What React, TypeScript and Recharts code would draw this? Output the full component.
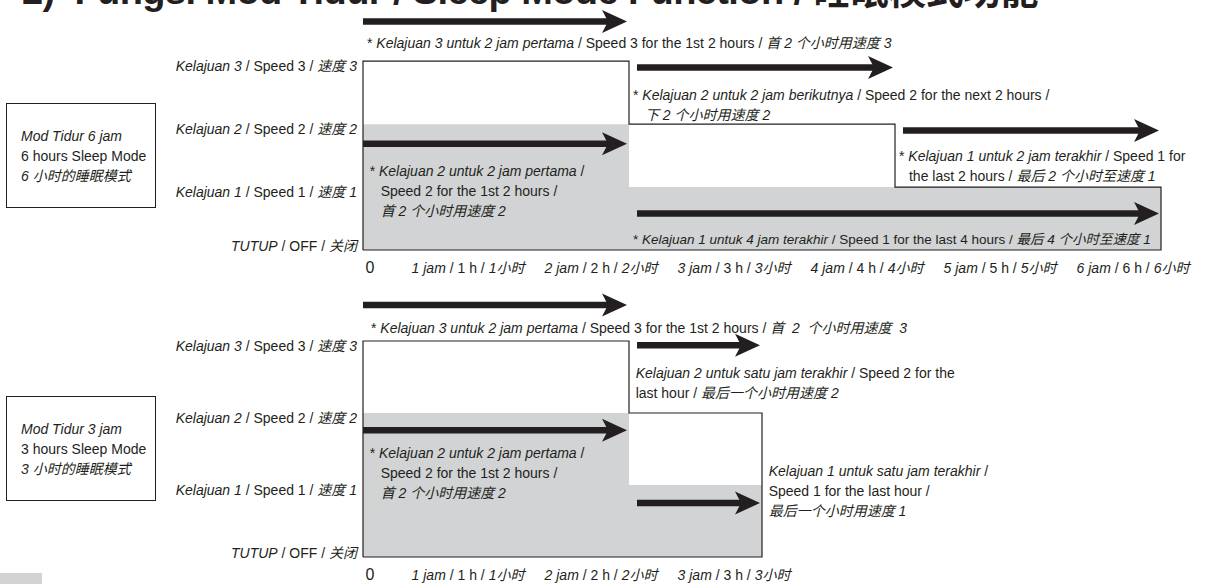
import React from 'react';
import { ComposedChart, Area, Line, XAxis, YAxis, ReferenceLine, ReferenceDot } from 'recharts';

const INK = '#231f20';
const SHADE = '#d1d3d4';
const FONT = "'Liberation Sans', 'Noto Sans CJK SC', Arial, sans-serif";

// ---- Panel 1: 6 hours sleep mode ----
const sixHours = [0, 2, 4, 6];
const sixFromSpeed3 = [3, 2, 1, 1];
const sixFromSpeed2 = [2, 1, 1, 1];
const sixHourTicks = [0, 1, 2, 3, 4, 5, 6];

// ---- Panel 2: 3 hours sleep mode ----
const threeHours = [0, 2, 3];
const threeFromSpeed3 = [3, 2, 2];
const threeFromSpeed2 = [2, 1, 1];
const threeHourTicks = [0, 1, 2, 3];

// ---- tick labels (underscore = italic) ----
const speedTicks = [0, 1, 2, 3];
const speedLabels = [
  '_TUTUP_ / OFF / _关闭_',
  '_Kelajuan 1_ / Speed 1 / _速度 1_',
  '_Kelajuan 2_ / Speed 2 / _速度 2_',
  '_Kelajuan 3_ / Speed 3 / _速度 3_',
];
const hourLabels = [
  '0',
  '_1 jam_ / 1 h / _1小时_',
  '_2 jam_ / 2 h / _2小时_',
  '_3 jam_ / 3 h / _3小时_',
  '_4 jam_ / 4 h / _4小时_',
  '_5 jam_ / 5 h / _5小时_',
  '_6 jam_ / 6 h / _6小时_',
];

const modeTitles = [
  ['_Mod Tidur 6 jam_', '6 hours Sleep Mode', '_6 小时的睡眠模式_'],
  ['_Mod Tidur 3 jam_', '3 hours Sleep Mode', '_3 小时的睡眠模式_'],
];

// ---- arrows (hours from -> to, at speed level) ----
const sixArrows = [
  { from: 0, to: 2, speed: 3.63 },
  { from: 2, to: 4, speed: 2.9 },
  { from: 4, to: 6, speed: 1.9 },
  { from: 0, to: 2, speed: 1.69 },
  { from: 2, to: 6, speed: 0.58 },
];
const threeArrows = [
  { from: 0, to: 2, speed: 3.5 },
  { from: 2, to: 3, speed: 2.94 },
  { from: 0, to: 2, speed: 1.76 },
  { from: 2, to: 3, speed: 0.75 },
];

// ---- notes ----
const sixNotes = [
  { hour: 0.03, speed: 3.21, indent: 11, size: 14, lines: ['* _Kelajuan 3 untuk 2 jam pertama_ / Speed 3 for the 1st 2 hours / _首 2 个小时用速度 3_'] },
  { hour: 2.03, speed: 2.39, indent: 12, size: 14, lines: ['* _Kelajuan 2 untuk 2 jam berikutnya_ / Speed 2 for the next 2 hours /', '_下 2 个小时用速度 2_'] },
  { hour: 4.03, speed: 1.42, indent: 10, size: 14, lines: ['* _Kelajuan 1 untuk 2 jam terakhir_ / Speed 1 for', 'the last 2 hours / _最后 2 个小时至速度 1_'] },
  { hour: 0.05, speed: 1.17, indent: 11, size: 14, lines: ['* _Kelajuan 2 untuk 2 jam pertama_ /', 'Speed 2 for the 1st 2 hours /', '_首 2 个小时用速度 2_'] },
  { hour: 2.03, speed: 0.1, indent: 0, size: 13.5, lines: ['* _Kelajuan 1 untuk 4 jam terakhir_ / Speed 1 for the last 4 hours / _最后 4 个小时至速度 1_'] },
];
const threeNotes = [
  { hour: 0.06, speed: 3.11, indent: 0, size: 14, lines: ['* _Kelajuan 3 untuk 2 jam pertama_ / Speed 3 for the 1st 2 hours / _首  2  个小时用速度  3_'] },
  { hour: 2.05, speed: 2.48, indent: 0, size: 14, lines: ['_Kelajuan 2 untuk satu jam terakhir_ / Speed 2 for the', 'last hour / _最后一个小时用速度 2_'] },
  { hour: 0.05, speed: 1.38, indent: 11, size: 14, lines: ['* _Kelajuan 2 untuk 2 jam pertama_ /', 'Speed 2 for the 1st 2 hours /', '_首 2 个小时用速度 2_'] },
  { hour: 3.05, speed: 1.125, indent: 0, size: 14, lines: ['_Kelajuan 1 untuk satu jam terakhir_ /', 'Speed 1 for the last hour /', '_最后一个小时用速度 1_'] },
];

const toPoints = (hours: number[], speeds: number[]) => hours.map((h, i) => ({ x: h, y: speeds[i] }));
const toOutline = (hours: number[], speeds: number[]) => {
  const end = hours[hours.length - 1];
  return [{ x: 0, y: 0 }, ...toPoints(hours, speeds), { x: end, y: 0 }, { x: 0, y: 0 }];
};

function Rich({ text }: { text: string }) {
  const parts = text.split('_');
  return (
    <>
      {parts.map((p, i) =>
        p ? (
          <tspan key={i} fontStyle={i % 2 ? 'italic' : 'normal'}>
            {p}
          </tspan>
        ) : null
      )}
    </>
  );
}

function NoteShape(props: any) {
  const { cx, cy, lines, indent, size } = props;
  return (
    <text x={cx} y={cy} fontSize={size} fill={INK} fontFamily={FONT} style={{ whiteSpace: 'pre' }}>
      {lines.map((ln: string, i: number) => (
        <tspan key={i} x={cx + (i ? indent : 0)} y={cy + i * 20}>
          <Rich text={ln} />
        </tspan>
      ))}
    </text>
  );
}

function ArrowShape(props: any) {
  const { x1, y1, x2, inset } = props;
  const start = x1 + inset;
  const tip = x2 - 2;
  const y = y1;
  const headLen = 25;
  const half = 11.5;
  const notch = 6;
  return (
    <g>
      <line x1={start} y1={y} x2={tip - headLen + notch + 1} y2={y} stroke={INK} strokeWidth={6.5} />
      <polygon
        points={`${tip},${y} ${tip - headLen},${y - half} ${tip - headLen + notch},${y} ${tip - headLen},${y + half}`}
        fill={INK}
      />
    </g>
  );
}

function YTick(props: any) {
  const { x, y, payload } = props;
  const idx = speedTicks.indexOf(payload.value);
  const shift = payload.value === 0 ? 1 : 10;
  return (
    <text x={x} y={y + shift} textAnchor="end" fontSize={14} fill={INK} fontFamily={FONT} style={{ whiteSpace: 'pre' }}>
      <Rich text={speedLabels[idx] ?? ''} />
    </text>
  );
}

function XTick(props: any) {
  const { x, y, payload } = props;
  const v = payload.value;
  const label = hourLabels[v] ?? '';
  return (
    <text
      x={v === 0 ? x + 7 : x - 28}
      y={y + 23}
      textAnchor="middle"
      fontSize={v === 0 ? 16 : 14}
      fill={INK}
      fontFamily={FONT}
      style={{ whiteSpace: 'pre' }}
    >
      <Rich text={label} />
    </text>
  );
}

function SleepChart(props: {
  hours: number[];
  fromSpeed3: number[];
  fromSpeed2: number[];
  ticks: number[];
  arrows: { from: number; to: number; speed: number }[];
  notes: { hour: number; speed: number; indent: number; size: number; lines: string[] }[];
  height: number;
  top: number;
  bottom: number;
}) {
  const { hours, fromSpeed3, fromSpeed2, ticks, arrows, notes, height, top, bottom } = props;
  return (
    <ComposedChart width={1223} height={height} margin={{ top, right: 62, bottom, left: 0 }}>
      <XAxis
        type="number"
        dataKey="x"
        domain={[0, 6]}
        ticks={ticks}
        axisLine={false}
        tickLine={false}
        tickSize={0}
        tickMargin={0}
        height={24}
        interval={0}
        tick={(p: any) => <XTick {...p} />}
      />
      <YAxis
        type="number"
        dataKey="y"
        domain={[0, 3.75]}
        ticks={speedTicks}
        axisLine={false}
        tickLine={false}
        tickSize={0}
        tickMargin={6}
        width={363}
        interval={0}
        tick={(p: any) => <YTick {...p} />}
      />
      <Area
        data={toPoints(hours, fromSpeed2)}
        dataKey="y"
        type="stepAfter"
        fill={SHADE}
        fillOpacity={1}
        stroke="none"
        isAnimationActive={false}
        dot={false}
        activeDot={false}
      />
      <Line
        data={toOutline(hours, fromSpeed3)}
        dataKey="y"
        type="stepAfter"
        stroke={INK}
        strokeWidth={1.2}
        dot={false}
        activeDot={false}
        isAnimationActive={false}
      />
      {arrows.map((a, i) => (
        <ReferenceLine
          key={'a' + i}
          segment={[
            { x: a.from, y: a.speed },
            { x: a.to, y: a.speed },
          ]}
          shape={(p: any) => <ArrowShape {...p} inset={a.from > 0 ? 8 : 0} />}
        />
      ))}
      {notes.map((n, i) => (
        <ReferenceDot
          key={'n' + i}
          x={n.hour}
          y={n.speed}
          r={0}
          shape={(p: any) => <NoteShape cx={p.cx} cy={p.cy} lines={n.lines} indent={n.indent} size={n.size} />}
        />
      ))}
    </ComposedChart>
  );
}

function ModeBox({ lines, top }: { lines: string[]; top: number }) {
  return (
    <div
      style={{
        position: 'absolute',
        left: 6,
        top,
        width: 150,
        height: 105,
        border: `1px solid ${INK}`,
        boxSizing: 'border-box',
        paddingTop: 22,
        paddingLeft: 14,
        fontFamily: FONT,
        fontSize: 14,
        lineHeight: '20px',
        color: INK,
      }}
    >
      {lines.map((ln, i) => (
        <div key={i} style={{ whiteSpace: 'pre' }}>
          {ln.split('_').map((p, j) =>
            p ? (
              <span key={j} style={{ fontStyle: j % 2 ? 'italic' : 'normal' }}>
                {p}
              </span>
            ) : null
          )}
        </div>
      ))}
    </div>
  );
}

export default function App() {
  return (
    <div
      style={{
        position: 'absolute',
        left: 0,
        top: 0,
        width: 1223,
        height: 584,
        overflow: 'hidden',
        background: '#ffffff',
        fontFamily: FONT,
      }}
    >
      <div
        style={{
          position: 'absolute',
          left: 22,
          top: -28,
          fontSize: 38,
          lineHeight: '38px',
          fontWeight: 700,
          color: INK,
          whiteSpace: 'pre',
          letterSpacing: -0.6,
        }}
      >
        2)  Fungsi Mod Tidur / Sleep Mode Function / 睡眠模式功能
      </div>
      <div style={{ position: 'absolute', left: 0, top: 0 }}>
        <SleepChart
          hours={sixHours}
          fromSpeed3={sixFromSpeed3}
          fromSpeed2={sixFromSpeed2}
          ticks={sixHourTicks}
          arrows={sixArrows}
          notes={sixNotes}
          height={284}
          top={14}
          bottom={10}
        />
      </div>
      <div style={{ position: 'absolute', left: 0, top: 280 }}>
        <SleepChart
          hours={threeHours}
          fromSpeed3={threeFromSpeed3}
          fromSpeed2={threeFromSpeed2}
          ticks={threeHourTicks}
          arrows={threeArrows}
          notes={threeNotes}
          height={304}
          top={7}
          bottom={3}
        />
      </div>
      <ModeBox lines={modeTitles[0]} top={103} />
      <ModeBox lines={modeTitles[1]} top={396} />
      <div style={{ position: 'absolute', left: 0, top: 573, width: 42, height: 11, background: SHADE }} />
    </div>
  );
}
